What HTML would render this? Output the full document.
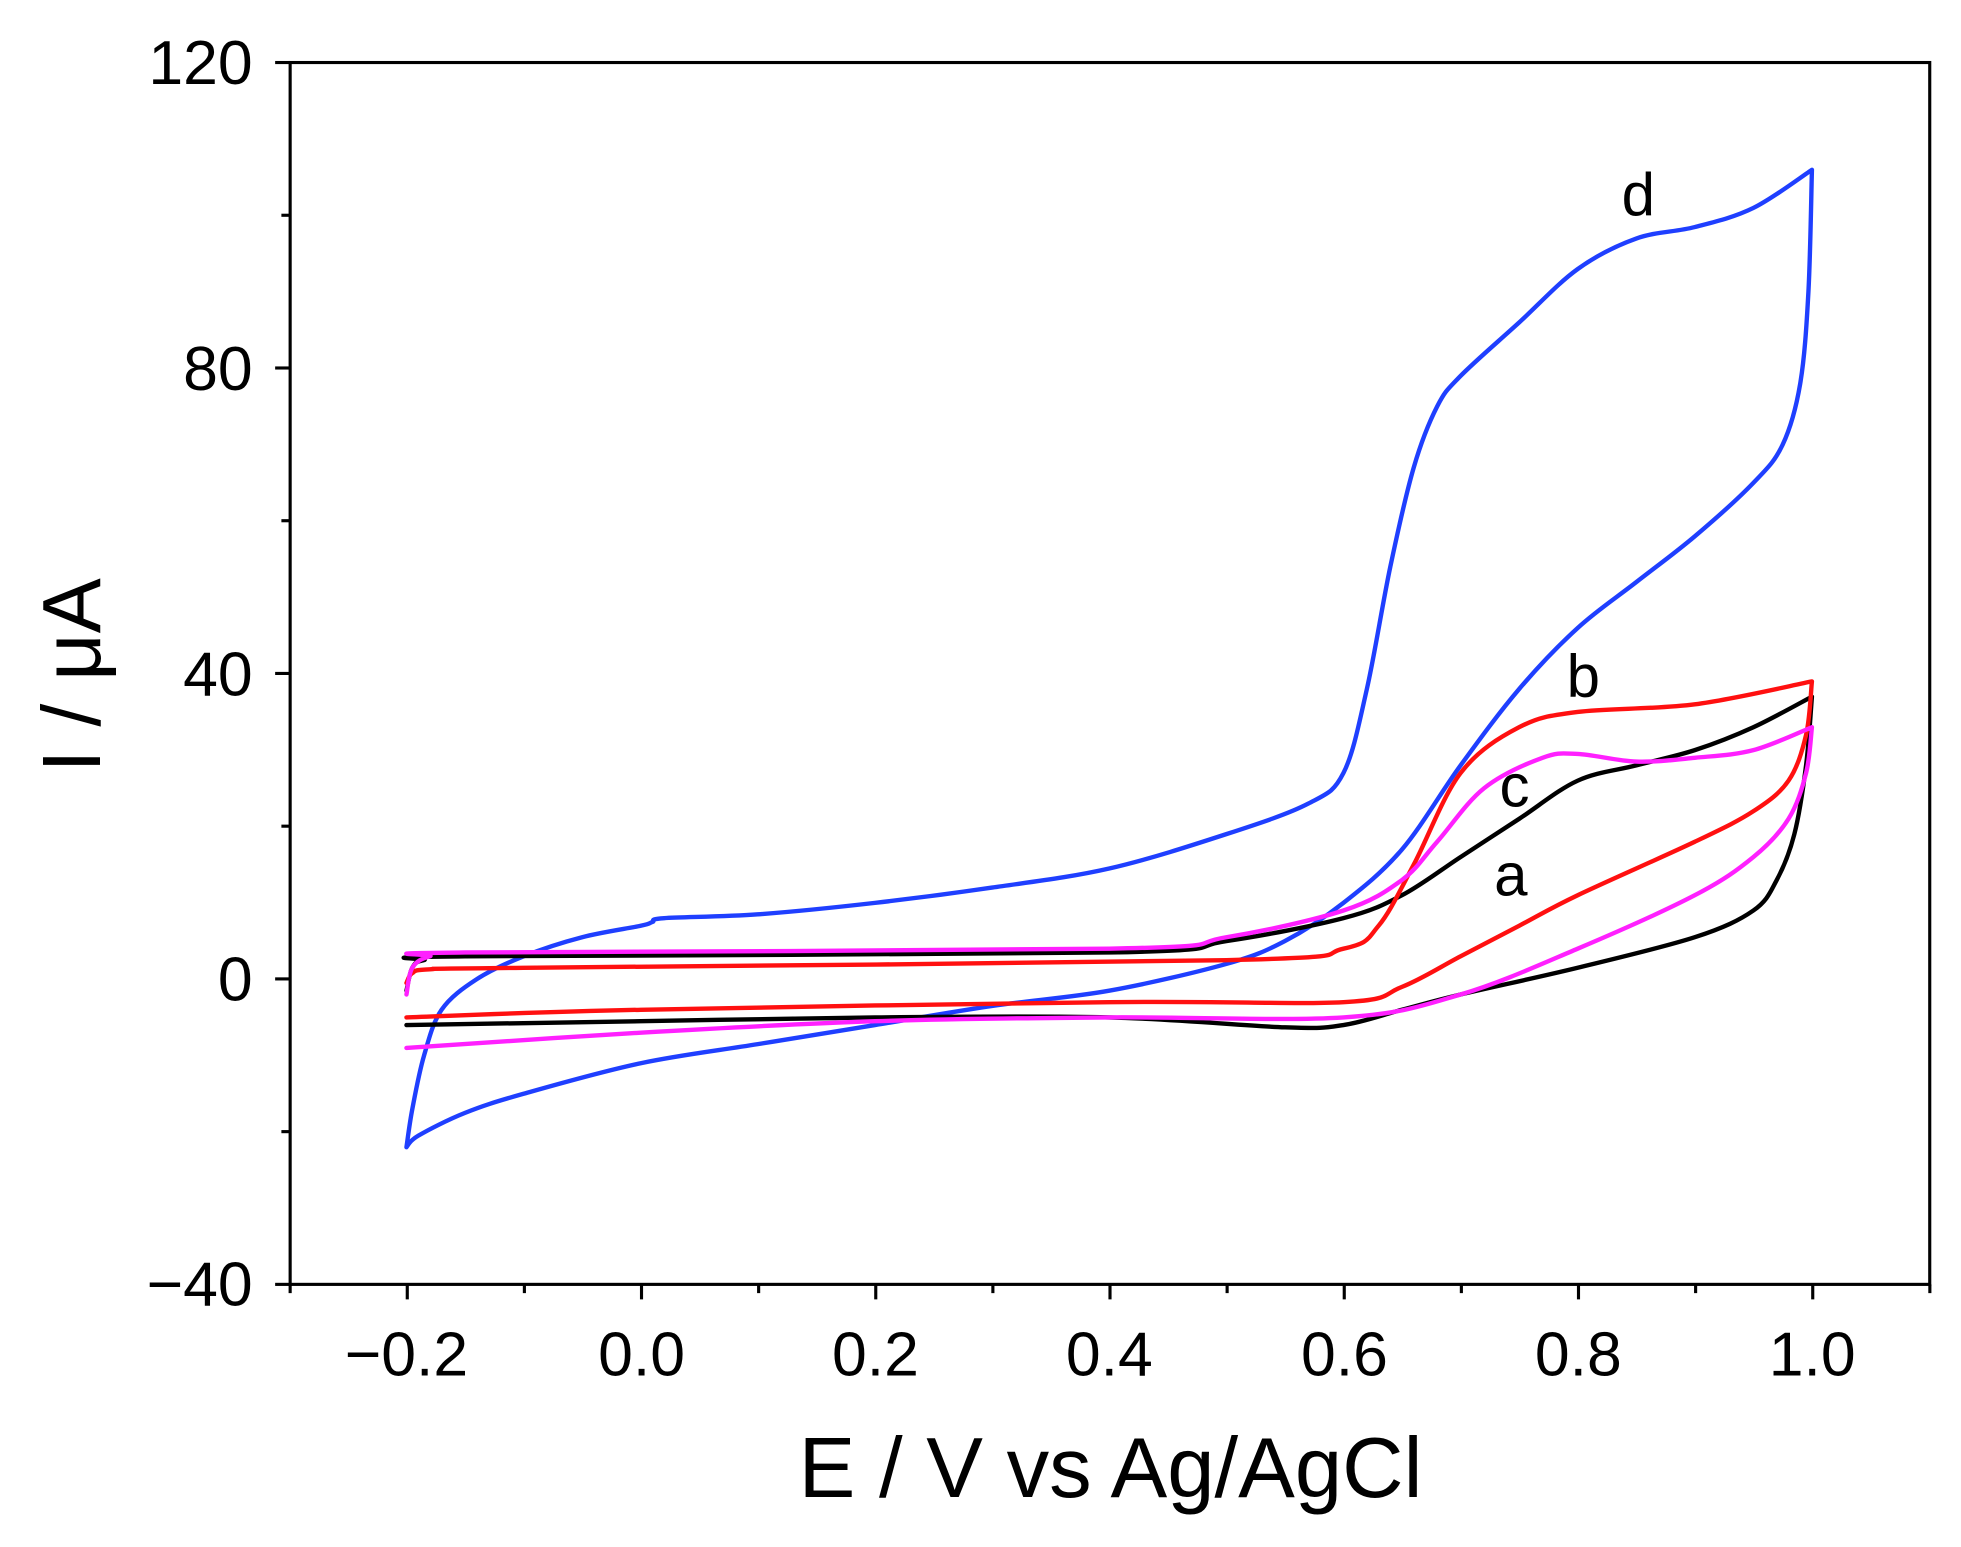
<!DOCTYPE html>
<html><head><meta charset="utf-8"><style>html,body{margin:0;padding:0;background:#fff}svg{display:block}</style></head>
<body>
<svg id="s" width="1961" height="1547" viewBox="0 0 1568 1237" preserveAspectRatio="none" xmlns="http://www.w3.org/2000/svg" font-family="Liberation Sans, Arial, sans-serif">
<rect x="232" y="50" width="1311" height="977" fill="none" stroke="#000" stroke-width="2.5"/>
<g id="ticks" stroke="#000" stroke-width="2.5"></g>
<g font-size="50" fill="#000" text-anchor="end">
<text x="202" y="67">120</text><text x="202" y="312">80</text><text x="202" y="556">40</text><text x="202" y="800">0</text><text x="202" y="1044">−40</text>
</g>
<g font-size="50" fill="#000" text-anchor="middle">
<text x="325" y="1100">−0.2</text><text x="513" y="1100">0.0</text><text x="700" y="1100">0.2</text><text x="887" y="1100">0.4</text><text x="1075" y="1100">0.6</text><text x="1262" y="1100">0.8</text><text x="1449" y="1100">1.0</text>
</g>
<text x="888" y="1197" font-size="68" text-anchor="middle">E / V vs Ag/AgCl</text>
<text transform="translate(80,540) rotate(-90)" font-size="66" text-anchor="middle">I / μA</text>
<g id="curves" fill="none" stroke-width="3.5" stroke-linejoin="round" stroke-linecap="round"></g>
<g font-size="48" fill="#000" text-anchor="middle">
<text x="1310" y="172">d</text><text x="1266" y="557">b</text><text x="1211" y="645">c</text><text x="1208" y="716">a</text>
</g>
</svg>
<script>
var X=function(e){return 325+(e+0.2)*936.5},Y=function(i){return 783-i*6.106};
var t=document.getElementById('ticks'),h='';
for(var k=0;k<=14;k++){var x=232+k*93.65,L=(k%2==1)?12:7;h+='<line x1="'+x+'" y1="1027" x2="'+x+'" y2="'+(1027+L)+'"/>';}
for(var k=0;k<=8;k++){var y=50+k*122.125,L=(k%2==0)?12:7;h+='<line x1="232" y1="'+y+'" x2="'+(232-L)+'" y2="'+y+'"/>';}
t.innerHTML=h;
function seg(d){var p=d.map(function(a){return [X(a[0]),Y(a[1])]});var s='M'+p[0][0]+','+p[0][1];
for(var i=0;i<p.length-1;i++){var p0=p[i-1]||p[i],p1=p[i],p2=p[i+1],p3=p[i+2]||p2;
s+=' C'+(p1[0]+(p2[0]-p0[0])/6)+','+(p1[1]+(p2[1]-p0[1])/6)+' '+(p2[0]-(p3[0]-p1[0])/6)+','+(p2[1]-(p3[1]-p1[1])/6)+' '+p2[0]+','+p2[1];}
return s;}
function path(f,r,c){return '<path d="'+seg(f)+' '+seg(r)+'" stroke="'+c+'"/>';}
var blueF=[[-0.2,-22],[-0.195,-17],[-0.185,-10],[-0.17,-4],[-0.14,0],[-0.1,3],[-0.05,5.5],[0,7],[0.01,7.5],[0.02,8],[0.1,8.5],[0.2,10],[0.3,12],[0.4,14.5],[0.5,19],[0.57,23],[0.6,27],[0.62,38],[0.64,54],[0.66,67],[0.68,75],[0.7,79],[0.75,86],[0.8,93],[0.85,97],[0.9,98.5],[0.95,101],[1.0,106]];
var blueR=[[1.0,106],[0.997,90],[0.99,78],[0.975,70],[0.95,65],[0.9,58],[0.85,52],[0.8,46],[0.75,38],[0.7,28],[0.65,17],[0.6,10],[0.55,5],[0.5,2],[0.4,-1.5],[0.3,-3.5],[0.2,-6],[0.1,-8.5],[0,-11],[-0.1,-15],[-0.15,-17.5],[-0.19,-20.5],[-0.2,-22]];
var blackF=[[-0.2,-1.5],[-0.195,1.5],[-0.185,2.5],[-0.15,3],[0.4,3.5],[0.5,5],[0.6,8],[0.65,11],[0.7,16],[0.75,21],[0.8,26],[0.85,28],[0.9,30],[0.95,33],[1.0,37]];
var blackR=[[1.0,37],[0.995,28],[0.985,19],[0.97,13],[0.95,9],[0.9,5.5],[0.8,1.5],[0.7,-2],[0.65,-4],[0.6,-6],[0.55,-6.3],[0.4,-5],[0.2,-5],[0,-5.5],[-0.2,-6]];
var redF=[[-0.2,-0.5],[-0.195,0.8],[-0.18,1.3],[-0.1,1.5],[0.5,2.5],[0.6,4],[0.63,7],[0.66,15],[0.7,27],[0.75,33],[0.8,35],[0.9,36],[1.0,39]];
var redR=[[1.0,39],[0.995,32],[0.98,26],[0.95,22],[0.9,18],[0.8,11],[0.75,7],[0.7,3],[0.65,-1],[0.6,-3],[0.4,-3],[0,-4],[-0.2,-5]];
var magF=[[-0.2,-2],[-0.195,1.5],[-0.18,3],[-0.15,3.5],[0.4,4],[0.5,5.5],[0.6,9],[0.65,13],[0.68,18],[0.72,25],[0.77,29],[0.8,29.5],[0.85,28.5],[0.9,29],[0.95,30],[1.0,33]];
var magR=[[1.0,33],[0.995,27],[0.98,21],[0.95,16],[0.9,11],[0.8,4],[0.7,-2],[0.6,-5],[0.4,-5],[0.2,-5.5],[0,-7],[-0.2,-9]];
document.getElementById('curves').innerHTML=path(blueF,blueR,'#1f3fff')+path(blackF,blackR,'#000')+path(redF,redR,'#ff1010')+path(magF,magR,'#ff20ff');
</script>
</body></html>
